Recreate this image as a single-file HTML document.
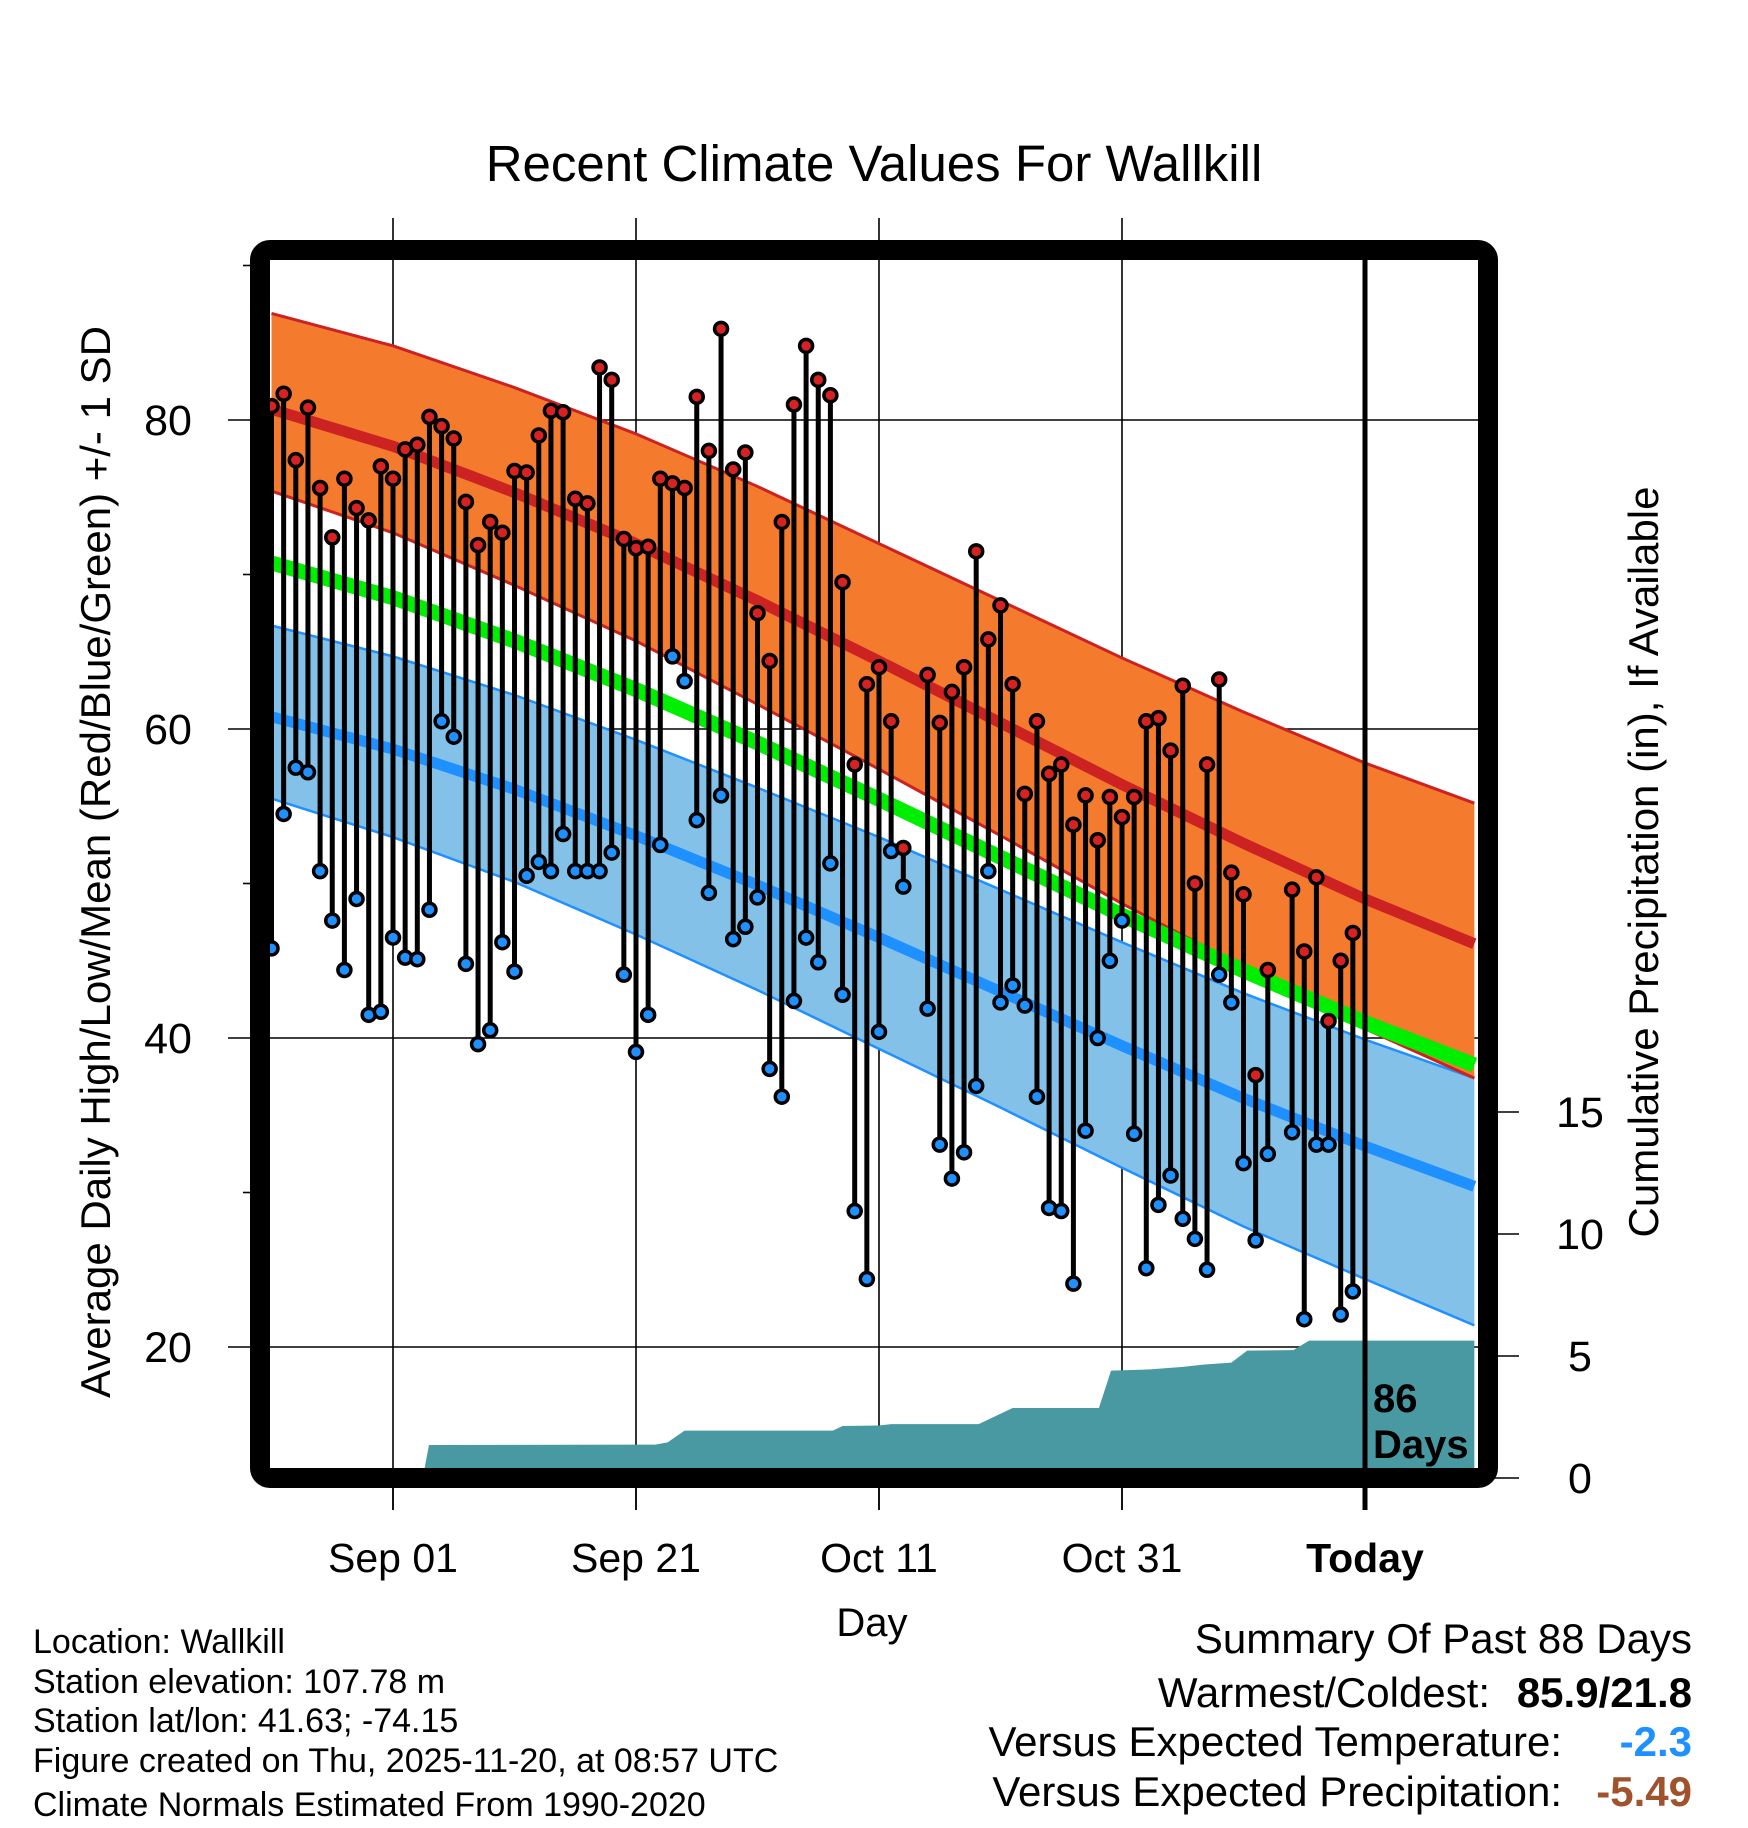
<!DOCTYPE html>
<html><head><meta charset="utf-8">
<style>
html,body{margin:0;padding:0;background:#fff;}
svg{display:block;font-family:"Liberation Sans",sans-serif;}
</style></head>
<body>
<svg id="chart" width="1748" height="1828" viewBox="0 0 1748 1828" xmlns="http://www.w3.org/2000/svg">
<defs><clipPath id="plotclip"><rect x="270" y="260" width="1208" height="1208"/></clipPath></defs>
<text x="874" y="181" font-size="51" text-anchor="middle">Recent Climate Values For Wallkill</text>
<g id="grid"></g>
<g id="plot" clip-path="url(#plotclip)"></g>
<g id="axes"></g>
<rect x="260" y="250" width="1228" height="1228" rx="10" fill="none" stroke="#000" stroke-width="20"/>
<text transform="translate(110,862) rotate(-90)" font-size="42" text-anchor="middle">Average Daily High/Low/Mean (Red/Blue/Green) +/- 1 SD</text>
<text transform="translate(1658,862) rotate(-90)" font-size="42" text-anchor="middle">Cumulative Precipitation (in), If Available</text>
<text x="872" y="1636" font-size="40" text-anchor="middle">Day</text>
<g font-size="34">
<text x="33" y="1653">Location: Wallkill</text>
<text x="33" y="1693">Station elevation: 107.78 m</text>
<text x="33" y="1732">Station lat/lon: 41.63; -74.15</text>
<text x="33" y="1772">Figure created on Thu, 2025-11-20, at 08:57 UTC</text>
<text x="33" y="1816">Climate Normals Estimated From 1990-2020</text>
</g>
<g font-size="42">
<text x="1692" y="1653" text-anchor="end">Summary Of Past 88 Days</text>
<text x="1490" y="1707" text-anchor="end">Warmest/Coldest:</text>
<text x="1692" y="1707" text-anchor="end" font-weight="bold">85.9/21.8</text>
<text x="1562" y="1756" text-anchor="end">Versus Expected Temperature:</text>
<text x="1692" y="1756" text-anchor="end" font-weight="bold" fill="#1e90ff">-2.3</text>
<text x="1562" y="1806" text-anchor="end">Versus Expected Precipitation:</text>
<text x="1692" y="1806" text-anchor="end" font-weight="bold" fill="#a0522d">-5.49</text>
</g>
</svg>
<script>
// ---- data ----
const dayOffsets = [-10,-9,-8,-7,-6,-5,-4,-3,-2,-1,0,1,2,3,4,5,6,7,8,9,10,11,12,13,14,15,16,17,18,19,20,21,22,23,24,25,26,27,28,29,30,31,32,33,34,35,36,37,38,39,40,41,42,43,44,45,46,47,48,49,50,51,52,53,54,55,56,57,58,59,60,61,62,63,64,65,66,67,68,69,70,71,72,73,74,75,76,77,78,79];
const highs = [80.9,81.7,77.4,80.8,75.6,72.4,76.2,74.3,73.5,77.0,76.2,78.1,78.4,80.2,79.6,78.8,74.7,71.9,73.4,72.7,76.7,76.6,79.0,80.6,80.5,74.9,74.6,83.4,82.6,72.3,71.7,71.8,76.2,75.9,75.6,81.5,78.0,85.9,76.8,77.9,67.5,64.4,73.4,81.0,84.8,82.6,81.6,69.5,57.7,62.9,64.0,60.5,52.3,null,63.5,60.4,62.4,64.0,71.5,65.8,68.0,62.9,55.8,60.5,57.1,57.7,53.8,55.7,52.8,55.6,54.3,55.6,60.5,60.7,58.6,62.8,50.0,57.7,63.2,50.7,49.3,37.6,44.4,null,49.6,45.6,50.4,41.1,45.0,46.8];
const lows = [45.8,54.5,57.5,57.2,50.8,47.6,44.4,49.0,41.5,41.7,46.5,45.2,45.1,48.3,60.5,59.5,44.8,39.6,40.5,46.2,44.3,50.5,51.4,50.8,53.2,50.8,50.8,50.8,52.0,44.1,39.1,41.5,52.5,64.7,63.1,54.1,49.4,55.7,46.4,47.2,49.1,38.0,36.2,42.4,46.5,44.9,51.3,42.8,28.8,24.4,40.4,52.1,49.8,null,41.9,33.1,30.9,32.6,36.9,50.8,42.3,43.4,42.1,36.2,29.0,28.8,24.1,34.0,40.0,45.0,47.6,33.8,25.1,29.2,31.1,28.3,27.0,25.0,44.1,42.3,31.9,26.9,32.5,null,33.9,21.8,33.1,33.1,22.1,23.6];
const normDays = [-10,0,10,20,30,40,50,60,70,80,89];
const hiMean = [80.7,78.3,75.3,72.0,68.3,64.4,60.4,56.4,52.6,49.0,46.1];
const hiUp   = [86.9,84.8,82.1,79.1,75.7,72.0,68.3,64.6,61.1,57.8,55.2];
const hiLow  = [75.4,72.7,69.3,65.7,61.6,57.4,53.1,48.7,44.6,40.6,37.4];
const loMean = [60.8,58.7,56.1,53.1,49.9,46.5,43.0,39.5,36.1,33.0,30.4];
const loUp   = [66.7,64.7,62.2,59.3,56.2,53.0,49.6,46.2,42.9,39.9,37.4];
const loLow  = [55.5,53.0,50.1,46.7,43.1,39.3,35.5,31.6,27.8,24.4,21.4];
const precipDays = [2.45,2.96,21.6,22.6,24.0,36.2,37.0,40.0,41.0,48.2,51.0,58.1,59.1,62.3,64.9,66.8,69.0,70.3,74.1,75.4,89];
const precipCum  = [0,1.35,1.37,1.46,1.94,1.94,2.13,2.15,2.21,2.21,2.87,2.87,4.40,4.45,4.55,4.65,4.73,5.22,5.24,5.63,5.63];
const xTickDays = [0,20,40,60,80];
const xTickLabels = ["Sep 01","Sep 21","Oct 11","Oct 31","Today"];
const yTicks = [20,40,60,80];
const yMinorTicks = [30,50,70,90];
const pTicks = [0,5,10,15];
const todayDay = 80;

// ---- scales ----
function X(d){ return 393 + d*12.15; }
function Y(v){ return 420 - (v-80)*15.45; }
function P(p){ return 1478 - p*24.4; }
const NS = "http://www.w3.org/2000/svg";
function mk(tag, attrs, parent){ const e=document.createElementNS(NS,tag); for(const k in attrs) e.setAttribute(k,attrs[k]); parent.appendChild(e); return e; }
const grid=document.getElementById('grid'), plot=document.getElementById('plot'), axes=document.getElementById('axes');

yTicks.forEach(v=>{
  const l=mk('line',{x1:228,x2:1478,y1:Y(v),y2:Y(v),stroke:'#000','stroke-width':1.6},grid);
  
  
});
xTickDays.forEach((d,i)=>{
  if(i===xTickDays.length-1) return;
  const l=mk('line',{x1:X(d),x2:X(d),y1:218,y2:1510,stroke:'#000','stroke-width':1.6},grid);
  
  
});

function bandPath(up, lo){
  let s='';
  normDays.forEach((d,i)=>{ s += (i?'L':'M')+X(d)+','+Y(up[i]); });
  for(let i=normDays.length-1;i>=0;i--) s += 'L'+X(normDays[i])+','+Y(lo[i]);
  return s+'Z';
}
function linePath(arr){
  let s=''; normDays.forEach((d,i)=>{ s += (i?'L':'M')+X(d)+','+Y(arr[i]); }); return s;
}
let pp='M'+X(precipDays[0])+','+P(0);
precipDays.forEach((d,i)=>{ pp+='L'+X(d)+','+P(precipCum[i]); });
pp+='L'+X(precipDays[precipDays.length-1])+','+P(0)+'Z';
const pa=mk('path',{d:pp,fill:'#4899a2'},plot);



const lb=mk('path',{d:bandPath(loUp,loLow),fill:'#83c1e8'},plot);


const lbu=mk('path',{d:linePath(loUp),fill:'none',stroke:'#1e90ff','stroke-width':2.5},plot);


const lbl=mk('path',{d:linePath(loLow),fill:'none',stroke:'#1e90ff','stroke-width':2.5},plot);


const hb=mk('path',{d:bandPath(hiUp,hiLow),fill:'#f47a2e'},plot);


const hbu=mk('path',{d:linePath(hiUp),fill:'none',stroke:'#cc2222','stroke-width':3},plot);


const hbl=mk('path',{d:linePath(hiLow),fill:'none',stroke:'#cc2222','stroke-width':3},plot);


const meanArr = hiMean.map((v,i)=>(v+loMean[i])/2);
const gm=mk('path',{d:linePath(meanArr),fill:'none',stroke:'#00ee00','stroke-width':15},plot);


const rm=mk('path',{d:linePath(hiMean),fill:'none',stroke:'#cc2222','stroke-width':11},plot);


const bm=mk('path',{d:linePath(loMean),fill:'none',stroke:'#1e90ff','stroke-width':11},plot);



dayOffsets.forEach((d,i)=>{
  if(highs[i]==null||lows[i]==null) return;
  const s=mk('line',{x1:X(d),x2:X(d),y1:Y(highs[i]),y2:Y(lows[i]),stroke:'#000','stroke-width':5},plot);
  
  
});
dayOffsets.forEach((d,i)=>{
  if(highs[i]==null||lows[i]==null) return;
  const h=mk('circle',{cx:X(d),cy:Y(highs[i]),r:6.5,fill:'#d62222',stroke:'#000','stroke-width':3.5},plot);
  
  
  const l=mk('circle',{cx:X(d),cy:Y(lows[i]),r:6.5,fill:'#1e90ff',stroke:'#000','stroke-width':3.5},plot);
  
  
});

const tl=mk('line',{x1:X(todayDay),x2:X(todayDay),y1:255,y2:1510,stroke:'#000','stroke-width':5},axes);


const t86=mk('text',{x:X(todayDay)+8,y:1412,'font-size':40,'font-weight':'bold'},axes);
t86.textContent='86';


const tdy=mk('text',{x:X(todayDay)+8,y:1458,'font-size':40,'font-weight':'bold'},axes);
tdy.textContent='Days';



yTicks.forEach(v=>{
  const t=mk('text',{x:168,y:Y(v)+15,'font-size':43,'text-anchor':'middle'},axes);
  t.textContent=String(v);
  
  
});
yMinorTicks.forEach(v=>{
  const l=mk('line',{x1:243,x2:252,y1:Y(v),y2:Y(v),stroke:'#000','stroke-width':1.6},axes);
  
  
});
pTicks.forEach(p=>{
  const l=mk('line',{x1:1490,x2:1519,y1:P(p),y2:P(p),stroke:'#000','stroke-width':1.6},axes);
  
  
  const t=mk('text',{x:1580,y:P(p)+15,'font-size':43,'text-anchor':'middle'},axes);
  t.textContent=String(p);
  
  
});
xTickDays.forEach((d,i)=>{
  const l=mk('line',{x1:X(d),x2:X(d),y1:1480,y2:1510,stroke:'#000','stroke-width':1.6},axes);
  
  
  const t=mk('text',{x:X(d),y:1572,'font-size':41,'text-anchor':'middle'},axes);
  if(i===xTickDays.length-1) t.setAttribute('font-weight','bold');
  t.textContent=xTickLabels[i];
  
  
});
</script>
</body></html>
